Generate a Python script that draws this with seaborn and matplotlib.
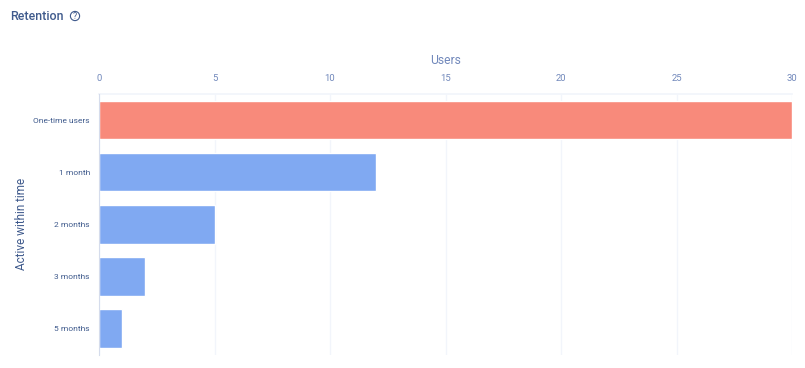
import pandas as pd
import matplotlib.pyplot as plt
import seaborn as sns
from matplotlib.patches import Circle

categories = ["One-time users", "1 month", "2 months", "3 months", "5 months"]
users = [30, 12, 5, 2, 1]
bar_colors = ["#f88a7b", "#80a9f2", "#80a9f2", "#80a9f2", "#80a9f2"]
x_ticks = [0, 5, 10, 15, 20, 25, 30]
band_edges = [-0.5, 0.5, 1.5, 2.5, 3.5, 4.5]

W, H = 805, 368
TEXT = "#3f5a8c"
TICK = "#7188bb"
GRID = "#f2f5fb"
AXIS = "#d5dcec"

sns.set_theme(style="white")
plt.rcParams["font.family"] = ["Roboto", "DejaVu Sans"]

data = pd.DataFrame({"category": categories, "users": users})

fig = plt.figure(figsize=(W / 100, H / 100), dpi=100)
ax = fig.add_axes([99 / W, 1 - 354.5 / H, (792 - 99) / W, (354.5 - 94) / H])

sns.barplot(data=data, y="category", x="users", hue="category", palette=bar_colors,
            legend=False, width=0.74, saturation=1, ax=ax, zorder=3)

ax.set_xlim(0, 30)
ax.set_ylim(4.5, -0.5)
ax.xaxis.tick_top()
ax.xaxis.set_label_position("top")
ax.set_xticks(x_ticks)
ax.set_xlabel("Users", fontsize=8.7, color=TICK)
ax.xaxis.set_label_coords(346.5 / 693, 1 + 33.5 / 260.5)
ax.xaxis.label.set_va("center")
ax.set_ylabel("Active within time", fontsize=8.5, color=TEXT)
ax.yaxis.set_label_coords(-71 / 693, 0.5)
ax.grid(axis="x", color=GRID, linewidth=1, zorder=0)
ax.set_axisbelow(True)
ax.tick_params(axis="x", length=0, pad=8, labelsize=6.8, labelcolor=TICK)
ax.tick_params(axis="y", which="major", length=0, pad=6.5, labelsize=6.05, labelcolor=TEXT)
# small separators on the y axis between bands
ax.set_yticks(band_edges, minor=True)
ax.tick_params(axis="y", which="minor", length=2.5, width=0.7, color=AXIS)

for side in ["right", "bottom"]:
    ax.spines[side].set_visible(False)
ax.spines["top"].set_color(GRID)
ax.spines["left"].set_color(AXIS)
ax.spines["left"].set_linewidth(0.8)
ax.spines["left"].set_zorder(4)

fig.text(10 / W, 1 - 16 / H, "Retention", fontsize=8.9, fontweight="medium", color=TEXT, va="center", ha="left")
fig.text(75 / W, 1 - 16.2 / H, "?", fontsize=6.2, color=TEXT, va="center", ha="center")
fig.add_artist(Circle((75, H - 16), 4.6, transform=None, fill=False, ec=TEXT, lw=0.8))

fig.savefig("out.png", dpi=100)
